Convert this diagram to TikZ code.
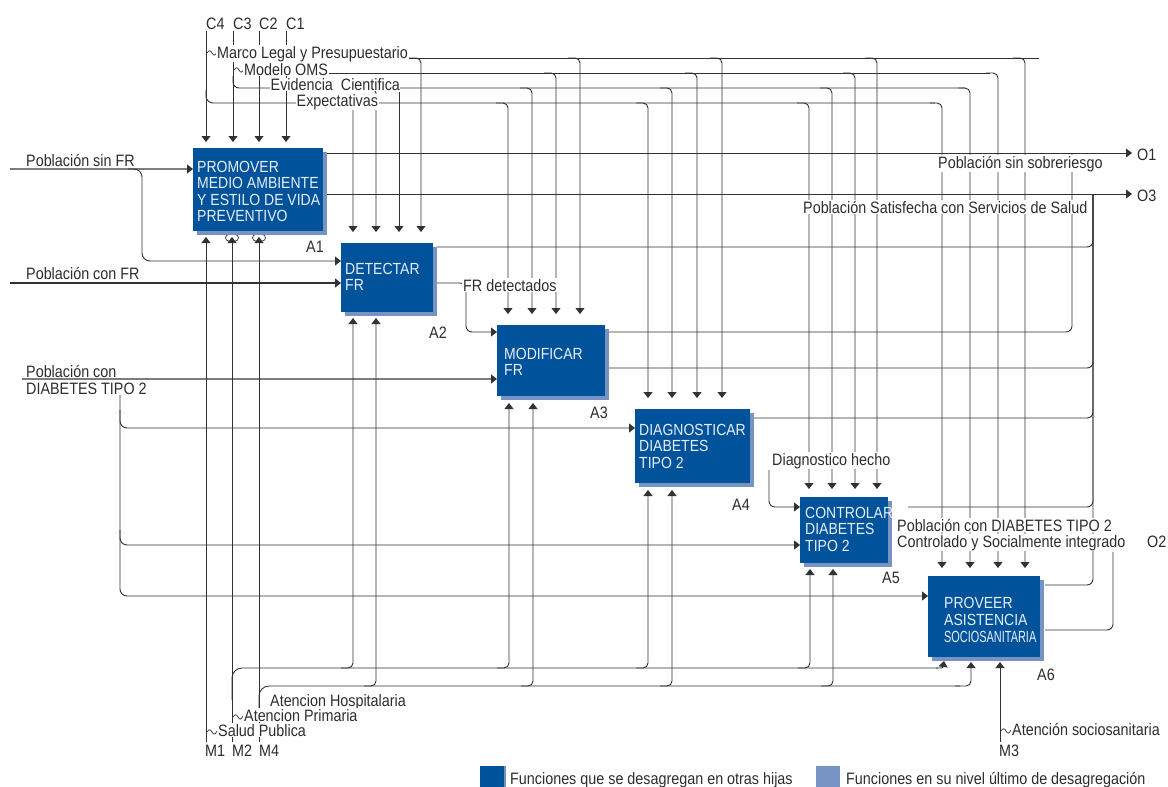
\documentclass[tikz,border=0pt]{standalone}
\usepackage{fontspec}
\setmainfont{Liberation Sans}[FakeStretch=0.87]
\usepackage{graphicx}
\usetikzlibrary{arrows.meta,shadows}
\definecolor{boxblue}{RGB}{0,83,155}
\definecolor{shadowblue}{RGB}{118,147,196}
\definecolor{boxtext}{RGB}{232,238,248}
\definecolor{inkline}{RGB}{50,50,50}
\definecolor{inkgray}{RGB}{125,125,125}
\definecolor{inktext}{RGB}{45,45,45}
\newcommand\lblfont{\fontsize{16.5}{17}\selectfont}
\newcommand\actfont{\fontsize{16.1}{16.5}\selectfont}
\begin{document}
\begin{tikzpicture}[x=1pt,y=-1pt,
  ln/.style={draw=inkline,line width=0.9pt},
  arr/.style={ln,-{Triangle[width=9pt,length=6pt]}},
  arrg/.style={draw=inkgray,line width=1.2pt,-{Triangle[width=9pt,length=6pt]},arrows={[color=inkline]}},
  lbl/.style={font=\lblfont,text=inktext,anchor=base west,inner sep=1pt},
  wlbl/.style={lbl,fill=white},
  actbox/.style={anchor=north west,fill=boxblue,inner sep=0pt,
    general shadow={fill=shadowblue,shadow xshift=4pt,shadow yshift=-4pt}},
  acttxt/.style={font=\actfont,text=boxtext,anchor=base west,inner sep=0pt},
  squig/.pic={\draw[ln,line width=0.7pt] (0,0) .. controls (2,-3) and (3.5,-3) .. (5,0) .. controls (6.5,3) and (8,3) .. (10,-1);}
]
\useasboundingbox (0,0) rectangle (1168,787);
\fill[white] (0,0) rectangle (1168,787);

% ---------- controls entering from the top ----------
\foreach \x in {206,233,259,286} \draw[arr] (\x,31) -- (\x,142);

% row: Marco Legal y Presupuestario
\draw[ln] (400,58) -- (1039,58);
\foreach \x/\t in {421/232,580/314,722/398,877/489,1025/568}
  \draw[arr,rounded corners=5] ({\x-12},58) -| (\x,\t);
% row: Modelo OMS
\draw[ln] (320,73) -- (990,73);
\foreach \x/\t in {556/314,697/398,855/489,998/568}
  \draw[arr,rounded corners=5] ({\x-12},73) -| (\x,\t);
% row: Evidencia Cientifica
\draw[ln,rounded corners=6] (233,76) |- (965,88);
\foreach \x/\t in {376/232,532/314,672/398,832/489,970/568}
  \draw[arr,rounded corners=5] ({\x-12},88) -| (\x,\t);
\draw[arr] (399,92) -- (399,232);
% row: Expectativas
\draw[ln,rounded corners=7] (206,90) |- (935,103);
\foreach \x/\t in {353/232,508/314,648/398,809/489,942/568}
  \draw[arr,rounded corners=5] ({\x-12},103) -| (\x,\t);

\pic at (207,53) {squig};
\pic at (234,70) {squig};

% ---------- outputs ----------
\draw[arr] (323,153) -- (1132,153);
\draw[arr] (323,194) -- (1132,194);
\draw[ln,rounded corners=6] (608,332) -| (1072,153);
\draw[ln,rounded corners=6] (437,247) -| (1093,194);
\draw[ln,rounded corners=6] (608,368) -| (1093,194);
\draw[ln,rounded corners=6] (751,418) -| (1093,194);
\draw[ln,rounded corners=6] (908,507) -| (1093,194);
\draw[ln,rounded corners=6] (1045,585) -| (1093,194);
\draw[ln,rounded corners=6] (1045,630) -| (1113,552);

% ---------- inputs ----------
\draw[arrg] (10,169) -- (193,169);
\draw[arr,rounded corners=8] (128,169) -| (142,261) -- (341,261);
\draw[arr,line width=1.4pt] (10,283) -- (341,283);
\draw[arrg] (22,379) -- (497,379);
\draw[arr,rounded corners=7] (120,410) |- (635,428);
\draw[arr,rounded corners=7] (120,530) |- (800,545);
\draw[arr,rounded corners=7] (120,383) |- (928,596);
\draw[arr,rounded corners=6] (437,283) -| (466,332) -- (497,332);
\draw[arr,rounded corners=6] (769,470) |- (800,507);

% ---------- mechanisms from below ----------
\foreach \x in {206,232,259} \draw[arr] (\x,742) -- (\x,237);
\foreach \x in {232,259} {
  \draw[ln,line width=0.7pt] ({\x-2},234) .. controls ({\x-8},234.5) and ({\x-8},241) .. ({\x-2},241.5);
  \draw[ln,line width=0.7pt] ({\x+2},234) .. controls ({\x+8},234.5) and ({\x+8},241) .. ({\x+2},241.5);
}
\draw[ln,rounded corners=10] (232,700) |- (938,668);
\draw[arr] (936,668) .. controls (943,668) .. (944,661);
\foreach \x/\t in {353/318,509/403,648/490,810/569}
  \draw[arr,rounded corners=5] ({\x-12},668) -| (\x,\t);
\draw[ln,rounded corners=10] (259,712) |- (960,686);
\draw[arr,rounded corners=5] (955,686) -| (971,662);
\foreach \x/\t in {376/318,533/403,672/490,833/569}
  \draw[arr,rounded corners=5] ({\x-12},686) -| (\x,\t);
\draw[arr] (1000,742) -- (1000,662);

\pic at (233,717) {squig};
\pic at (207,732) {squig};
\pic at (1001,731) {squig};

% ---------- labels ----------
\node[lbl] (lC4) at (205,29) {C4};
\node[lbl] (lC3) at (232,29) {C3};
\node[lbl] (lC2) at (258,29) {C2};
\node[lbl] (lC1) at (285,29) {C1};
\node[wlbl] (tMarco) at (216,58) {Marco Legal y Presupuestario};
\node[wlbl] (tOMS) at (243,75) {Modelo OMS};
\node[wlbl,inner sep=0.5pt] (tEvid) at (270,90) {Evidencia\ \ Cientifica};
\node[wlbl,inner sep=0.5pt] (tExp) at (296,106) {Expectativas};

\node[lbl] (lO1) at (1136,160) {O1};
\node[lbl] (lO3) at (1136,201) {O3};
\node[lbl] (lO2) at (1146,547) {O2};
\node[wlbl] (tSinSob) at (937,168) {Población sin sobreriesgo};
\node[wlbl] (tSatisf) at (802,213) {Población Satisfecha con Servicios de Salud};
\node[wlbl] (tCtrlA) at (896,531) {Población con DIABETES TIPO 2};
\node[wlbl] (tCtrlB) at (896,547) {Controlado y Socialmente integrado};

\node[lbl] (tSinFR) at (25,166) {Población sin FR};
\node[lbl] (tConFR) at (25,279) {Población con FR};
\node[lbl] (tConDa) at (25,377) {Población con};
\node[wlbl] (tConDb) at (25,394) {DIABETES TIPO 2};
\node[wlbl] (tFRdet) at (462,291) {FR detectados};
\node[wlbl] (tDiag) at (771,465) {Diagnostico hecho};

\node[lbl] (tHosp) at (269,706) {Atencion Hospitalaria};
\node[wlbl] (tPrim) at (243,721) {Atencion Primaria};
\node[wlbl] (tSalud) at (217,736) {Salud Publica};
\node[lbl] (lM1) at (204,756) {M1};
\node[lbl] (lM2) at (231,756) {M2};
\node[lbl] (lM4) at (258,756) {M4};
\node[wlbl] (tSocio) at (1011,735) {Atención sociosanitaria};
\node[lbl] (lM3) at (998,756) {M3};

% ---------- activity boxes ----------
\node[actbox,minimum width=130pt,minimum height=83pt] (A1) at (193,148) {};
\node[actbox,minimum width=92pt,minimum height=69pt] (A2) at (341,243) {};
\node[actbox,minimum width=108pt,minimum height=71pt] (A3) at (497,325) {};
\node[actbox,minimum width=115pt,minimum height=74pt] (A4) at (635,409) {};
\node[actbox,minimum width=88pt,minimum height=66pt] (A5) at (800,497) {};
\node[actbox,minimum width=112pt,minimum height=81pt] (A6) at (928,576) {};

\foreach \t [count=\i from 0] in {PROMOVER,MEDIO AMBIENTE,Y ESTILO DE VIDA,PREVENTIVO}
  \node[acttxt] (tA1-\i) at (197,{172+16.5*\i}) {\t};
\foreach \t [count=\i from 0] in {DETECTAR,FR}
  \node[acttxt] (tA2-\i) at (345,{274+16.5*\i}) {\t};
\foreach \t [count=\i from 0] in {MODIFICAR,FR}
  \node[acttxt] (tA3-\i) at (504,{359+16.5*\i}) {\t};
\foreach \t [count=\i from 0] in {DIAGNOSTICAR,DIABETES,TIPO 2}
  \node[acttxt] (tA4-\i) at (639,{435+16.5*\i}) {\t};
\foreach \t [count=\i from 0] in {CONTROLAR,DIABETES,TIPO 2}
  \node[acttxt] (tA5-\i) at (805,{518+16.5*\i}) {\t};
\node[acttxt] (tA6-0) at (944,608) {PROVEER};
\node[acttxt] (tA6-1) at (944,625) {ASISTENCIA};
\node[acttxt] (tA6-2) at (944,642) {\scalebox{0.78}[1]{SOCIOSANITARIA}};

\node[lbl] (nA1) at (305,252) {A1};
\node[lbl] (nA2) at (428,338) {A2};
\node[lbl] (nA3) at (589,418) {A3};
\node[lbl] (nA4) at (731,510) {A4};
\node[lbl] (nA5) at (881,583) {A5};
\node[lbl] (nA6) at (1036,680) {A6};

% ---------- legend ----------
\fill[shadowblue] (482,766) rectangle (506,787);
\fill[boxblue] (480,766) rectangle (504,787);
\node[lbl] (leg1) at (509,784) {Funciones que se desagregan en otras hijas};
\fill[shadowblue] (816,766) rectangle (840,787);
\node[lbl] (leg2) at (845,784) {Funciones en su nivel último de desagregación};
\end{tikzpicture}
\end{document}
